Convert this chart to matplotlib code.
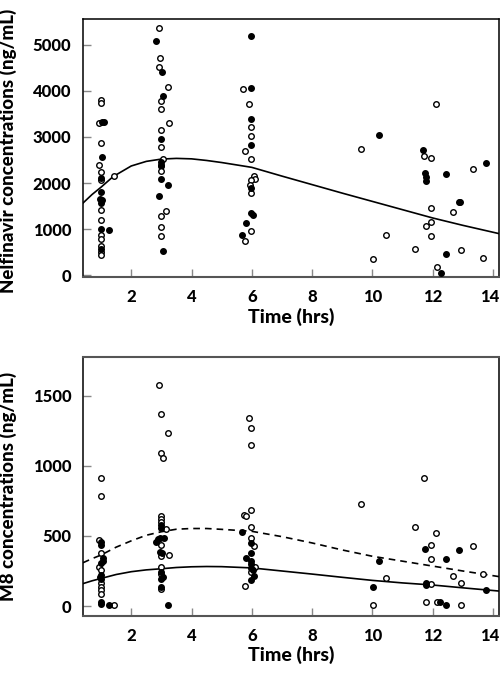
import matplotlib
matplotlib.use("Agg")
import matplotlib.pyplot as plt
import matplotlib.transforms as mtransforms

plt.rcParams['font.family'] = ['Lato', 'DejaVu Sans']
plt.rcParams['font.weight'] = 'black'

# ---------------- Nelfinavir (top) ----------------
nfv_open_t = [1.0, 1.0, 0.92, 1.0, 0.92, 1.0, 1.0, 1.0, 1.0, 1.0, 1.0, 1.0, 1.0, 1.0, 1.42,
              2.92, 2.97, 2.93, 3.22, 2.99, 2.99, 3.24, 2.99, 2.99, 3.05, 2.99, 2.99, 3.14, 2.99, 2.99, 2.99,
              5.72, 5.92, 5.98, 5.98, 5.79, 5.98, 6.06, 6.12, 5.98, 5.95, 5.98, 5.98, 5.79,
              9.62, 11.71, 11.93, 13.34, 12.10, 11.95, 12.68, 11.95, 11.78, 10.44, 11.93, 11.43,
              12.93, 10.02, 13.66, 12.13]
nfv_open_c = [3800, 3730, 3300, 2870, 2390, 2240, 2070, 1420, 1190, 880, 780, 640, 500, 430, 2150,
              5370, 4717, 4522, 4078, 3789, 3615, 3304, 3152, 2774, 2520, 2370, 2253, 1383, 1282, 1035, 839,
              4043, 3709, 3217, 3028, 2696, 2522, 2143, 2093, 2065, 1948, 1774, 948, 730,
              2746, 2593, 2543, 2304, 3717, 1456, 1376, 1143, 1057, 876, 848, 572,
              535, 354, 376, 180]
nfv_fill_t = [1.02, 1.10, 1.02, 1.0, 1.0, 0.95, 1.02, 1.0, 1.0, 1.26, 1.0,
              2.81, 3.01, 3.07, 2.99, 2.99, 2.99, 2.99, 3.23, 2.92, 3.05,
              5.98, 5.98, 5.98, 5.98, 5.98, 5.98, 6.03, 5.80, 5.66,
              10.21, 11.68, 13.77, 11.76, 12.44, 11.78, 11.78, 12.86, 12.92, 12.44, 12.26]
nfv_fill_c = [3330, 3330, 2560, 2110, 1800, 1650, 1620, 1560, 1010, 980, 560,
              5078, 4413, 3898, 2948, 2450, 2400, 2078, 1948, 1709, 528,
              5202, 4072, 3391, 2826, 1883, 1339, 1296, 1122, 876,
              3050, 2716, 2441, 2209, 2196, 2122, 2035, 1593, 1593, 448, 35]
nfv_curve_t = [0.4, 0.7, 1.0, 1.4, 2.0, 2.5, 3.0, 3.5, 4.0, 4.5, 5.0, 6.0, 7.0, 8.0, 9.0,
               10.0, 11.0, 12.0, 13.0, 14.2]
nfv_curve_c = [1565, 1750, 1910, 2140, 2370, 2470, 2520, 2535, 2525, 2490, 2445, 2340, 2150,
               1965, 1780, 1600, 1420, 1240, 1080, 900]

# ---------------- M8 (bottom) ----------------
m8_open_t = [1.0, 1.0, 0.92, 1.0, 0.92, 1.0, 1.0, 1.0, 1.0, 1.0, 1.42,
             2.92, 2.99, 3.22, 2.99, 3.05, 2.99, 2.99, 2.99, 3.14, 2.99, 3.24, 2.99, 2.99, 2.99, 2.99,
             5.92, 5.98, 5.98, 5.98, 5.74, 5.80, 5.98, 5.98, 6.06, 6.12, 5.98, 5.79,
             9.62, 11.71, 11.43, 12.10, 11.93, 13.34, 11.95, 12.68, 13.66, 10.44, 12.93, 11.93,
             10.02, 11.78, 12.13, 12.93]
m8_open_c = [911, 785, 470, 376, 276, 257, 162, 138, 114, 86, 7,
             1574, 1372, 1236, 1094, 1058, 644, 620, 596, 549, 435, 364, 357, 281, 228, 121,
             1339, 1267, 1148, 685, 647, 645, 561, 487, 428, 276, 240, 143,
             725, 913, 561, 521, 437, 426, 337, 212, 228, 197, 162, 157,
             5, 26, 26, 7]
m8_fill_t = [1.0, 1.0, 1.08, 1.06, 1.0, 1.0, 0.95, 1.0, 1.0, 1.0, 1.26,
             2.99, 2.99, 2.81, 2.90, 2.97, 3.10, 2.97, 3.02, 2.99, 3.04, 2.99, 2.99, 3.23,
             5.66, 5.98, 5.98, 5.80, 5.98, 5.98, 5.98, 6.03, 6.06, 5.98,
             11.76, 12.87, 10.21, 12.44, 11.78, 11.78, 10.02, 13.77, 12.25, 12.44]
m8_fill_c = [459, 437, 340, 323, 309, 223, 205, 195, 31, 14, 7,
             578, 559, 459, 476, 485, 485, 387, 380, 243, 204, 195, 138, 7,
             526, 447, 380, 340, 323, 297, 274, 257, 216, 185,
             404, 399, 319, 335, 162, 148, 135, 112, 26, 7]
m8_curve_t = [0.4, 0.7, 1.0, 1.5, 2.0, 2.5, 3.0, 3.5, 4.0, 4.5, 5.0, 6.0, 7.0, 8.0, 9.0,
              10.0, 11.0, 12.0, 13.0, 14.2]
m8_solid_c = [160, 180, 197, 225, 245, 258, 266, 275, 280, 282, 281, 272, 250, 228, 205,
              183, 165, 150, 130, 107]
m8_dash_c = [309, 338, 364, 420, 465, 505, 530, 548, 553, 553, 547, 533, 495, 450, 400,
             355, 320, 285, 250, 210]

xticks = [2, 4, 6, 8, 10, 12, 14]
nfv_yticks = [0, 1000, 2000, 3000, 4000, 5000]
m8_yticks = [0, 500, 1000, 1500]

fig = plt.figure(figsize=(5.0, 6.73), dpi=100)
ax1 = fig.add_axes([0.166, 0.5884, 0.832, 0.3834])
ax2 = fig.add_axes([0.166, 0.0851, 0.832, 0.3840])

def style(ax):
    for s in ['left', 'top', 'right']:
        ax.spines[s].set_color('black')
        ax.spines[s].set_linewidth(1.1)
    ax.spines['bottom'].set_color('#555555')
    ax.spines['bottom'].set_linewidth(1.5)
    ax.tick_params(axis='both', direction='in', length=6, width=1.0, color='#888888',
                   labelsize=12)
    ax.tick_params(axis='x', pad=8.5)
    ax.tick_params(axis='y', pad=8.5)
    ax.set_xticks(xticks)
    ax.set_xlim(0.4, 14.2)
    ax.set_xlabel('Time (hrs)', fontsize=14, fontweight='black', labelpad=2)
    lbl = ax.get_xticklabels()[-1]
    lbl.set_transform(lbl.get_transform() +
                      mtransforms.ScaledTranslation(-3 / 100, 0, fig.dpi_scale_trans))

mk = dict(linestyle='none', marker='o', markersize=4.0, markeredgewidth=1.0,
          markeredgecolor='black', zorder=3)

# top
ax1.plot(nfv_curve_t, nfv_curve_c, color='black', lw=1.2, zorder=2)
ax1.plot(nfv_open_t, nfv_open_c, markerfacecolor='white', **mk)
ax1.plot(nfv_fill_t, nfv_fill_c, markerfacecolor='black', **mk)
ax1.set_ylim(-43, 5565)
ax1.set_yticks(nfv_yticks)
style(ax1)
ax1.set_ylabel('Nelfinavir concentrations (ng/mL)', fontsize=13.5, fontweight='black')
ax1.yaxis.set_label_coords(-0.158, 0.49)

# bottom
ax2.plot(m8_curve_t, m8_solid_c, color='black', lw=1.2, zorder=2)
ax2.plot(m8_curve_t, m8_dash_c, color='black', lw=1.2, linestyle=(0, (4, 3)), zorder=2)
ax2.plot(m8_open_t, m8_open_c, markerfacecolor='white', **mk)
ax2.plot(m8_fill_t, m8_fill_c, markerfacecolor='black', **mk)
ax2.set_ylim(-69, 1774)
ax2.set_yticks(m8_yticks)
style(ax2)
ax2.spines['top'].set_color('#555555')
ax2.spines['top'].set_linewidth(1.5)
ax2.set_ylabel('M8 concentrations (ng/mL)', fontsize=13.5, fontweight='black')
ax2.yaxis.set_label_coords(-0.158, 0.5)

fig.savefig('out.png', dpi=100)
